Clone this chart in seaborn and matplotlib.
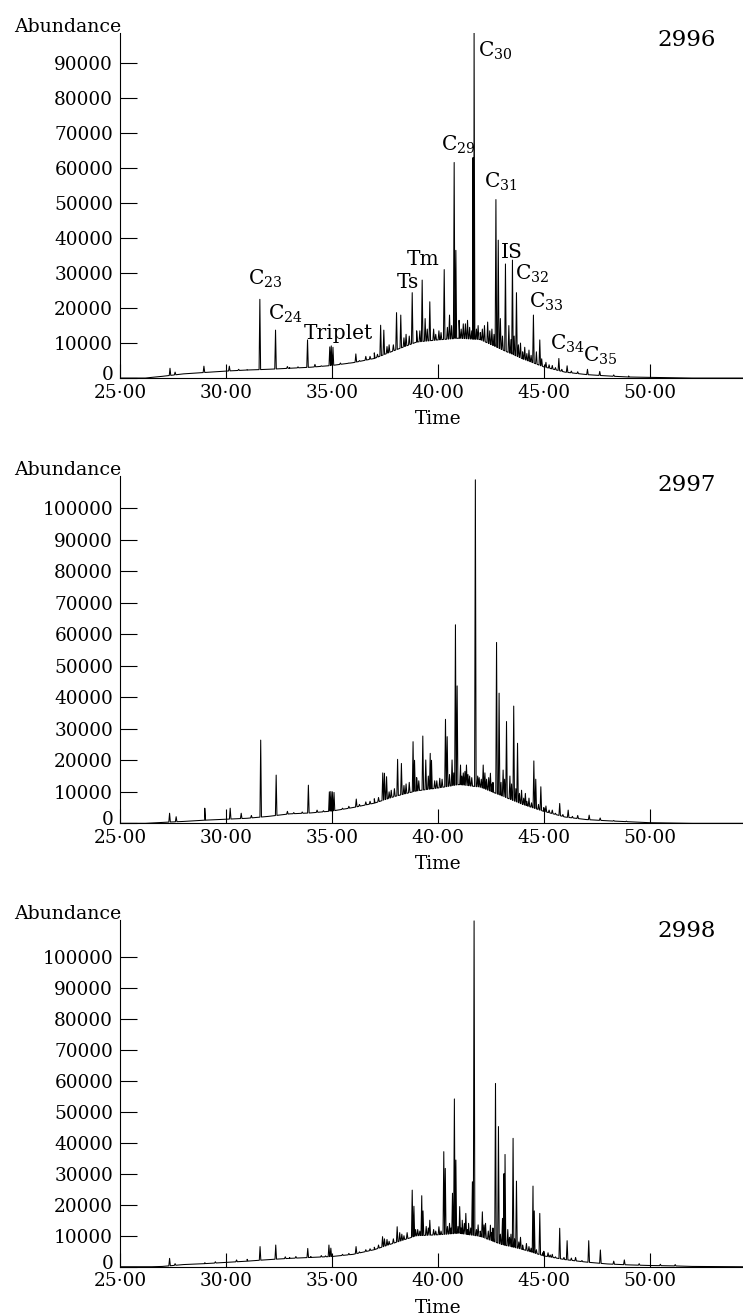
import numpy as np
import matplotlib
matplotlib.use("Agg")
import matplotlib.pyplot as plt
import matplotlib.transforms as mtransforms
import seaborn as sns
import pandas as pd

# ---- data ----
x_ticks = [25, 30, 35, 40, 45, 50]
x_ticklabels = ["25\u00b700", "30\u00b700", "35\u00b700", "40\u00b700", "45\u00b700", "50\u00b700"]

base_t = [25, 26.2, 26.5, 27, 28, 29, 30, 31, 32, 33, 34, 35, 36, 37, 38, 39, 40, 41, 42,
          43, 44, 45, 46, 47, 48, 49, 50, 51, 52, 54.4]

# 2996
base_2996 = [0, 0, 200, 500, 1200, 1600, 2000, 2300, 2500, 2800, 3100, 3600, 4400, 5600, 8000,
             10300, 10900, 11400, 11000, 8200, 5500, 3200, 1700, 1000, 600, 300, 200, 100, 0, 0]
peak_t_2996 = [27.36, 27.6, 28.96, 30.16, 30.6, 31.0, 31.6, 32.34, 32.9, 33.85, 34.2, 34.9, 34.97,
               35.05, 35.4, 36.13, 36.6, 37.0, 37.3, 37.45, 37.7, 38.05, 38.25, 38.5, 38.79, 39.0,
               39.26, 39.4, 39.62, 39.8, 40.05, 40.3, 40.55, 40.77, 40.85, 41.0, 41.2, 41.4, 41.66,
               41.71, 41.9, 42.1, 42.35, 42.55, 42.74, 42.85, 42.95, 43.19, 43.35, 43.52, 43.71,
               43.9, 44.1, 44.3, 44.51, 44.65, 44.81, 45.1, 45.4, 45.71, 46.1, 46.6, 47.06, 47.64,
               48.3, 49.0]
peak_v_2996 = [2800, 1700, 3400, 3400, 2500, 2400, 22500, 13700, 3300, 10900, 3900, 8900, 9200,
               8800, 4300, 6900, 6200, 7200, 15100, 13700, 9500, 18700, 18000, 12500, 24400, 13500,
               28000, 17000, 21800, 14000, 13500, 31000, 18000, 61600, 36500, 16500, 15500, 16500,
               63000, 99000, 15000, 14000, 16000, 14000, 51000, 39400, 17000, 32600, 15000, 33700,
               24400, 10000, 8800, 8000, 18000, 7500, 10900, 4500, 3600, 5600, 3500, 1800, 2500,
               1900, 900, 600]
minor_t_2996 = [33.0, 33.4, 34.5, 35.8, 36.3, 36.8, 37.15, 37.6, 37.9, 38.4, 38.65, 39.15, 39.5,
                39.9, 40.15, 40.45, 40.65, 41.1, 41.3, 41.5, 41.6, 41.82, 42.0, 42.2, 42.45,
                42.65, 43.05, 43.45, 43.6, 43.8, 44.0, 44.2, 44.4, 44.9, 45.25, 45.55, 45.85, 46.3]
minor_v_2996 = [3000, 3200, 3500, 4300, 5000, 6200, 6800, 9000, 9500, 11500, 12000, 13500, 14000,
                12500, 13000, 14500, 15000, 14000, 15500, 14500, 13500, 14000, 13000, 15000, 13500,
                12500, 12000, 11000, 12000, 9500, 7500, 7000, 6500, 5500, 3800, 3000, 2500, 2000]

# 2997
base_2997 = [0, 0, 100, 300, 600, 1000, 1300, 1600, 2200, 3000, 3300, 3900, 5000, 6400, 8600,
             10300, 11200, 12300, 11500, 8800, 6000, 3800, 2000, 1200, 800, 500, 200, 100, 0, 0]
peak_t_2997 = [27.34, 27.65, 29.0, 30.2, 30.72, 31.2, 31.64, 32.37, 32.9, 33.89, 34.3, 34.88,
               34.95, 35.02, 35.1, 35.5, 36.15, 36.6, 37.0, 37.4, 37.48, 37.58, 37.8, 38.1, 38.28,
               38.5, 38.83, 38.9, 39.1, 39.29, 39.43, 39.64, 39.7, 39.85, 40.09, 40.36, 40.44,
               40.67, 40.83, 40.91, 41.07, 41.2, 41.35, 41.5, 41.77, 41.95, 42.14, 42.3, 42.48,
               42.6, 42.77, 42.89, 43.08, 43.24, 43.4, 43.58, 43.76, 43.95, 44.13, 44.3, 44.53,
               44.62, 44.86, 45.1, 45.4, 45.75, 46.15, 46.6, 47.14, 47.66, 48.3, 48.9]
peak_v_2997 = [3200, 2100, 4800, 4800, 3200, 2500, 26400, 15300, 3800, 12100, 4200, 10000, 10100,
               10000, 9800, 4800, 7700, 6800, 7800, 16000, 15900, 14800, 10500, 20300, 19000,
               12500, 25900, 20000, 13500, 27700, 20100, 22200, 20000, 13500, 14300, 33000, 27500,
               20100, 63000, 43600, 18500, 16000, 18500, 15000, 109000, 14500, 18500, 14000, 15900,
               13000, 57400, 41300, 16900, 32300, 15000, 37200, 25400, 10500, 9500, 8000, 19800,
               14000, 11600, 5500, 4200, 6300, 4200, 2500, 2600, 1700, 900, 700]
minor_t_2997 = [33.2, 33.6, 34.6, 35.8, 36.3, 36.8, 37.2, 37.7, 37.95, 38.4, 38.65, 39.0, 39.55,
                39.95, 40.2, 40.55, 40.75, 41.13, 41.28, 41.42, 41.6, 41.88, 42.05, 42.22, 42.4,
                42.55, 42.98, 43.15, 43.48, 43.68, 43.85, 44.05, 44.2, 44.42, 44.75, 45.0, 45.25,
                45.55, 45.9, 46.35]
minor_v_2997 = [3400, 3600, 4000, 5400, 6000, 7000, 8200, 10000, 11000, 12000, 13000, 14500, 15000,
                13500, 14000, 15500, 16000, 15000, 16500, 15500, 14500, 15000, 14000, 16000, 14500,
                12500, 13000, 14000, 12500, 11000, 9500, 8000, 7000, 6500, 6000, 5000, 4200, 3200,
                2800, 2200]

# 2998
base_2998 = [0, 0, 0, 100, 700, 1000, 1400, 1800, 2300, 2700, 3000, 3300, 4000, 5500, 7800,
             10000, 10300, 10800, 9800, 7200, 5600, 3500, 2300, 1500, 900, 600, 400, 300, 100, 0]
peak_t_2998 = [27.34, 27.6, 29.0, 29.5, 30.5, 31.0, 31.61, 32.35, 32.8, 33.3, 33.86, 34.5, 34.86,
               34.95, 35.5, 36.14, 36.6, 37.0, 37.39, 37.48, 37.7, 38.08, 38.2, 38.4, 38.79, 38.87,
               39.05, 39.24, 39.3, 39.45, 39.62, 39.8, 40.05, 40.28, 40.35, 40.55, 40.69, 40.78,
               40.85, 41.03, 41.15, 41.32, 41.45, 41.63, 41.71, 41.9, 42.1, 42.25, 42.48, 42.6,
               42.72, 42.86, 43.05, 43.12, 43.17, 43.3, 43.55, 43.71, 43.9, 44.18, 44.3, 44.49,
               44.55, 44.81, 45.0, 45.2, 45.4, 45.75, 46.1, 46.5, 47.12, 47.67, 48.3, 48.8, 49.5,
               50.5, 51.2]
peak_v_2998 = [2700, 1000, 1300, 1600, 2200, 2400, 6500, 7000, 3200, 3300, 5900, 3600, 7000,
               6000, 4000, 6500, 5500, 6300, 9700, 9000, 8200, 12900, 11000, 10000, 24700, 19500,
               12000, 22900, 18000, 13000, 15000, 12000, 12900, 37100, 31700, 14000, 23700, 54100,
               34400, 19400, 15000, 17200, 14000, 27400, 111500, 13500, 17700, 14000, 13400, 12500,
               59100, 45200, 15600, 30000, 36200, 12000, 41400, 27600, 9500, 7500, 6500, 26000,
               18000, 17200, 5000, 4500, 4000, 12400, 8400, 3000, 8400, 5400, 1800, 2200, 1000,
               800, 700]
minor_t_2998 = [33.0, 34.0, 34.7, 35.8, 36.3, 36.8, 37.2, 37.6, 37.9, 38.3, 38.55, 38.95, 39.15,
                39.55, 39.9, 40.15, 40.45, 40.62, 40.95, 41.1, 41.25, 41.4, 41.55, 41.82, 42.0,
                42.18, 42.38, 42.55, 42.95, 43.38, 43.45, 43.62, 43.82, 44.0, 44.4, 44.65, 44.95,
                45.3, 45.55, 45.95, 46.3, 46.8]
minor_v_2998 = [3000, 3300, 3500, 4300, 4800, 5800, 7000, 8800, 9000, 10500, 11000, 12000, 11500,
                12500, 11500, 11500, 13000, 12500, 13000, 12500, 14000, 12000, 12500, 12000, 11500,
                13500, 11500, 11000, 10500, 9500, 10500, 9000, 8000, 7000, 6000, 5500, 4500, 3800,
                3200, 3000, 2800, 2000]

# peak labels for 2996 (text, time of left edge, baseline abundance)
lab_text = ["C$_{23}$", "C$_{24}$", "Triplet", "Ts", "Tm", "C$_{29}$", "C$_{30}$", "C$_{31}$",
            "IS", "C$_{32}$", "C$_{33}$", "C$_{34}$", "C$_{35}$"]
lab_t = [31.04, 31.98, 33.68, 38.05, 38.54, 40.13, 41.89, 42.17, 42.96, 43.63, 44.29, 45.28, 46.86]
lab_v = [26600, 16600, 11100, 25700, 32300, 65100, 91700, 54300, 34300, 28000, 20000, 8000, 4600]

samples = ["2996", "2997", "2998"]
y_max = [98600, 110200, 111800]
y_top_tick = [90000, 100000, 100000]


def trace(base_v, peak_t, peak_v, minor_t, minor_v, w=0.036):
    # baseline hump plus narrow spikes at each peak
    rows = [(t, v) for t, v in zip(base_t, base_v)]
    for t, v in zip(list(peak_t) + list(minor_t), list(peak_v) + list(minor_v)):
        rows.append((t - w, np.interp(t - w, base_t, base_v)))
        rows.append((t, v))
        rows.append((t + w, np.interp(t + w, base_t, base_v)))
    df = pd.DataFrame(rows, columns=["time", "abundance"])
    return df.sort_values("time", kind="stable").reset_index(drop=True)


sns.set_theme(style="ticks")
plt.rcParams["font.family"] = ["DejaVu Serif"]
plt.rcParams["mathtext.fontset"] = "dejavuserif"

fig = plt.figure(figsize=(7.43, 13.15), dpi=100)
rects = [[0.1615, 0.7125, 0.8385, 0.2624],
         [0.1615, 0.3739, 0.8385, 0.2641],
         [0.1615, 0.0367, 0.8385, 0.2637]]
name_y = [0.980, 0.974, 0.968]
data = [(base_2996, peak_t_2996, peak_v_2996, minor_t_2996, minor_v_2996),
        (base_2997, peak_t_2997, peak_v_2997, minor_t_2997, minor_v_2997),
        (base_2998, peak_t_2998, peak_v_2998, minor_t_2998, minor_v_2998)]

for i, rect in enumerate(rects):
    ax = fig.add_axes(rect)
    df = trace(*data[i])
    sns.lineplot(data=df, x="time", y="abundance", sort=False, estimator=None,
                 color="black", linewidth=0.75, ax=ax)
    ax.set_xlim(25, 54.4)
    ax.set_ylim(0, y_max[i])
    sns.despine(ax=ax)
    for s in ["left", "bottom"]:
        ax.spines[s].set_linewidth(0.8)
        ax.spines[s].set_color("black")

    ax.set_xticks(x_ticks)
    ax.set_xticklabels(x_ticklabels)
    ax.set_yticks(np.arange(0, y_top_tick[i] + 1, 10000))
    ax.set_yticklabels([str(v) for v in range(0, y_top_tick[i] + 1, 10000)])
    ax.tick_params(axis="x", direction="in", length=10, width=0.8, pad=4, labelsize=13.3,
                   color="black", labelcolor="black")
    ax.tick_params(axis="y", direction="in", length=12, width=0.8, pad=5, labelsize=13.3,
                   color="black", labelcolor="black")
    # lift the "0" label a little so it sits above the first time label
    zero = ax.get_yticklabels()[0]
    zero.set_transform(zero.get_transform() +
                       mtransforms.ScaledTranslation(0, 5 / 100, fig.dpi_scale_trans))

    ax.set_ylabel("")
    ax.set_xlabel("Time", fontsize=13.3, color="black")
    ax.xaxis.set_label_coords(0.51, -32 / (rect[3] * 1315))
    ax.annotate("Abundance", xy=(0, 1), xycoords="axes fraction", xytext=(1, 1),
                textcoords="offset pixels", ha="right", va="baseline", fontsize=13.6,
                color="black", annotation_clip=False)
    ax.text(0.957, name_y[i], samples[i], transform=ax.transAxes, ha="right", va="center",
            fontsize=16.5, color="black")

    if i == 0:
        for txt, t, v in zip(lab_text, lab_t, lab_v):
            ax.text(t, v, txt, ha="left", va="baseline", fontsize=14.5, color="black")

fig.savefig("out.png", dpi=100)
